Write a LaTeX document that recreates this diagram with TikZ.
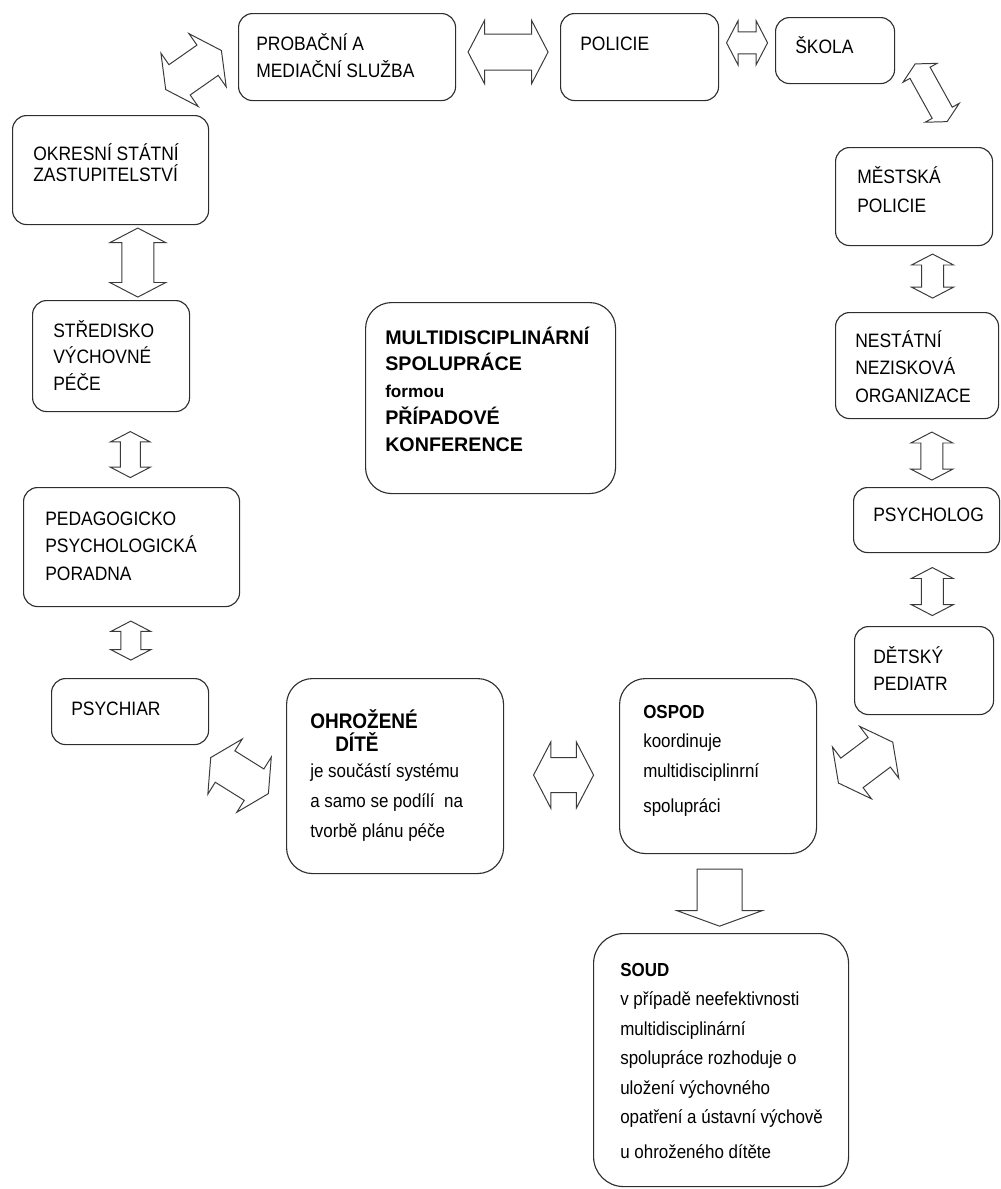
\documentclass[tikz,border=0pt]{standalone}
\usepackage{fontspec}
\setmainfont{Liberation Sans}[FakeStretch=0.9]
\newfontfamily\plainsans{Liberation Sans}
\usetikzlibrary{shapes.arrows,calc}
\definecolor{mspLine}{HTML}{2E2E2E}
\definecolor{mspArrow}{HTML}{3A3A3A}
% lines of a box text, first baseline on the node's base
\newcommand\msplines[1]{\begin{tabular}[t]{@{}l@{}}#1\end{tabular}}
\tikzset{
  msp box/.style={draw=mspLine, line width=0.8pt, rounded corners=3.5mm, anchor=north west, inner sep=0pt},
  msp big box/.style={msp box, rounded corners=6.5mm},
  msp text/.style={anchor=base west, inner sep=0pt, font=\fontsize{13.8pt}{19.6pt}\selectfont},
  msp small text/.style={msp text, font=\fontsize{13.4pt}{21pt}\selectfont},
  msp dbl/.style={double arrow, draw=mspArrow, fill=white, line width=0.7pt, inner sep=0pt,
    text height=0pt, text depth=0pt, double arrow tip angle=125},
  msp slant/.style={msp dbl, minimum height=17mm, inner ysep=4.5mm, double arrow head extend=3.5mm},
  msp sgl/.style={single arrow, draw=mspArrow, fill=white, line width=0.7pt, inner sep=0pt,
    text height=0pt, text depth=0pt, single arrow tip angle=140},
}

\begin{document}
\begin{tikzpicture}[x=0.25mm, y=-0.25mm]
  \useasboundingbox (0,0) rectangle (1001,1189);

  % Top row
  \node[msp box, minimum width=54.25mm, minimum height=21.75mm] (prob) at (238,13) {};
  \node[msp text, font=\fontsize{13.8pt}{19.9pt}\selectfont] (prob-t) at ($(prob.north west)+(18,37)$) {\msplines{PROBAČNÍ A\\MEDIAČNÍ SLUŽBA}};

  \node[msp box, minimum width=39.5mm, minimum height=21.75mm] (pol) at (560,13) {};
  \node[msp text] (pol-t) at ($(pol.north west)+(20,37)$) {POLICIE};

  \node[msp box, minimum width=29.75mm, minimum height=16.5mm] (skola) at (775,17) {};
  \node[msp text] (skola-t) at ($(skola.north west)+(20,36)$) {ŠKOLA};

  % Left column
  \node[msp box, minimum width=49mm, minimum height=27.25mm] (okres) at (12,115) {};
  \node[msp text, font=\fontsize{13.8pt}{15.6pt}\selectfont] (okres-t) at ($(okres.north west)+(21,45)$) {\msplines{OKRESNÍ STÁTNÍ\\[-1.5pt]ZASTUPITELSTVÍ}};

  \node[msp box, minimum width=39.25mm, minimum height=27.75mm] (stred) at (32,300) {};
  \node[msp text, font=\fontsize{13.8pt}{19.2pt}\selectfont] (stred-t) at ($(stred.north west)+(21,37)$) {\msplines{STŘEDISKO\\VÝCHOVNÉ\\PÉČE}};

  \node[msp box, minimum width=54mm, minimum height=29.75mm] (pedag) at (23,487) {};
  \node[msp text] (pedag-t) at ($(pedag.north west)+(22,38)$) {\msplines{PEDAGOGICKO\\PSYCHOLOGICKÁ\\PORADNA}};

  \node[msp box, minimum width=39.25mm, minimum height=16.5mm] (psychiar) at (51,678) {};
  \node[msp text] (psychiar-t) at ($(psychiar.north west)+(20,37)$) {PSYCHIAR};

  % Right column
  \node[msp box, minimum width=39.25mm, minimum height=24.5mm] (mest) at (835,147) {};
  \node[msp text, font=\fontsize{13.8pt}{21.3pt}\selectfont] (mest-t) at ($(mest.north west)+(22,36)$) {\msplines{MĚSTSKÁ\\POLICIE}};

  \node[msp box, minimum width=40.75mm, minimum height=26.5mm] (nest) at (835,312) {};
  \node[msp text] (nest-t) at ($(nest.north west)+(20,35)$) {\msplines{NESTÁTNÍ\\NEZISKOVÁ\\ORGANIZACE}};

  \node[msp box, minimum width=36.5mm, minimum height=16.25mm] (psycholog) at (853,487) {};
  \node[msp text] (psycholog-t) at ($(psycholog.north west)+(20,34)$) {PSYCHOLOG};

  \node[msp box, minimum width=34.75mm, minimum height=22mm] (pediatr) at (854,626) {};
  \node[msp text, font=\fontsize{13.8pt}{19.9pt}\selectfont] (pediatr-t) at ($(pediatr.north west)+(19,37)$) {\msplines{DĚTSKÝ\\PEDIATR}};

  % Centre
  \node[msp big box, minimum width=62.5mm, minimum height=47.75mm] (konf) at (365,302) {};
  \node[msp text, font=\plainsans\bfseries\fontsize{14pt}{19.2pt}\selectfont] (konf-t) at ($(konf.north west)+(20,42)$)
    {\msplines{MULTIDISCIPLINÁRNÍ\\SPOLUPRÁCE\\{\fontsize{12.2pt}{19.2pt}\selectfont formou}\\PŘÍPADOVÉ\\KONFERENCE}};

  % Bottom row
  \node[msp big box, minimum width=54.25mm, minimum height=48.75mm] (ohro) at (286,678) {};
  \node[msp small text, font=\fontsize{13.4pt}{21.3pt}\selectfont] (ohro-t) at ($(ohro.north west)+(24,50)$)
    {\msplines{{\bfseries\fontsize{15pt}{17pt}\selectfont OHROŽENÉ}\\[-4.3pt]
     \hspace*{6.25mm}{\bfseries\fontsize{15pt}{17pt}\selectfont DÍTĚ}\\[-2.8pt]
     je součástí systému\\a samo se podílí\ \ na\\tvorbě plánu péče}};

  \node[msp big box, minimum width=49.25mm, minimum height=43.75mm] (ospod) at (619,678) {};
  \node[msp small text] (ospod-t) at ($(ospod.north west)+(24,40)$)
    {\msplines{{\bfseries OSPOD}\\koordinuje\\multidisciplinrní\\[3.9pt]spolupráci}};

  \node[msp box, rounded corners=7.5mm, minimum width=63.75mm, minimum height=63.25mm] (soud) at (593,933) {};
  \node[msp small text] (soud-t) at ($(soud.north west)+(27,43)$)
    {\msplines{{\bfseries SOUD}\\v případě neefektivnosti\\multidisciplinární\\spolupráce rozhoduje o\\uložení výchovného\\opatření a ústavní výchově\\[3.5pt]u ohroženého dítěte}};

  % Block arrows between neighbours
  \node[msp slant, rotate=35] (a1) at ($(okres.north east)!0.5!(prob.west)+(-30,-16)$) {};
  \node[msp dbl, minimum height=20mm, inner ysep=4.375mm, double arrow head extend=3.4mm] (a2) at ($(prob.east)!0.5!(pol.west)+(0,-5)$) {};
  \node[msp dbl, minimum height=10.25mm, inner ysep=2.625mm, double arrow head extend=2.75mm] (a3) at ($(pol.east)!0.5!(skola.west)+(0,-11)$) {};
  \node[msp dbl, rotate=-61, minimum height=16.5mm, inner ysep=2.75mm, double arrow head extend=2mm] (a4) at ($(skola.east)!0.5!(mest.north east)+(-13,-6)$) {};
  \node[msp dbl, rotate=90, minimum height=17.25mm, inner ysep=3.875mm, double arrow head extend=3mm] (a5) at ($(okres.south)!0.5!(stred.north)+(27,0)$) {};
  \node[msp dbl, rotate=90, minimum height=11.5mm, inner ysep=2.375mm, double arrow head extend=2.5mm] (a6) at ($(stred.south)!0.5!(pedag.north)+(9,5)$) {};
  \node[msp dbl, rotate=90, minimum height=9.75mm, inner ysep=2.375mm, double arrow head extend=2.5mm] (a7) at ($(pedag.south)!0.5!(psychiar.north)+(0,-2)$) {};
  \node[msp dbl, rotate=90, minimum height=11mm, inner ysep=2.625mm, double arrow head extend=2.5mm] (a8) at ($(mest.south)!0.5!(nest.north)+(17,-3)$) {};
  \node[msp dbl, rotate=90, minimum height=12mm, inner ysep=2.625mm, double arrow head extend=2.5mm] (a9) at ($(nest.south)!0.5!(psycholog.north)+(10,3)$) {};
  \node[msp dbl, rotate=90, minimum height=12mm, inner ysep=2.625mm, double arrow head extend=2.5mm] (a10) at ($(psycholog.south)!0.5!(pediatr.north)+(7,2)$) {};
  \node[msp slant, rotate=-32] (a11) at ($(psychiar.south east)!0.5!(ohro.west)+(-8,15)$) {};
  \node[msp dbl, minimum height=15mm, inner ysep=4.25mm, double arrow head extend=3.9mm] (a12) at ($(ohro.east)!0.5!(ospod.west)+(2,4)$) {};
  \node[msp slant, rotate=37] (a13) at ($(ospod.east)!0.5!(pediatr.south)+(-5,22)$) {};

  % OSPOD passes the case to the court
  \node[msp sgl, rotate=-90, minimum height=14.25mm, inner ysep=5.5mm, single arrow head extend=5mm] (a14) at ($(ospod.south)!0.5!(soud.north)$) {};
\end{tikzpicture}
\end{document}
